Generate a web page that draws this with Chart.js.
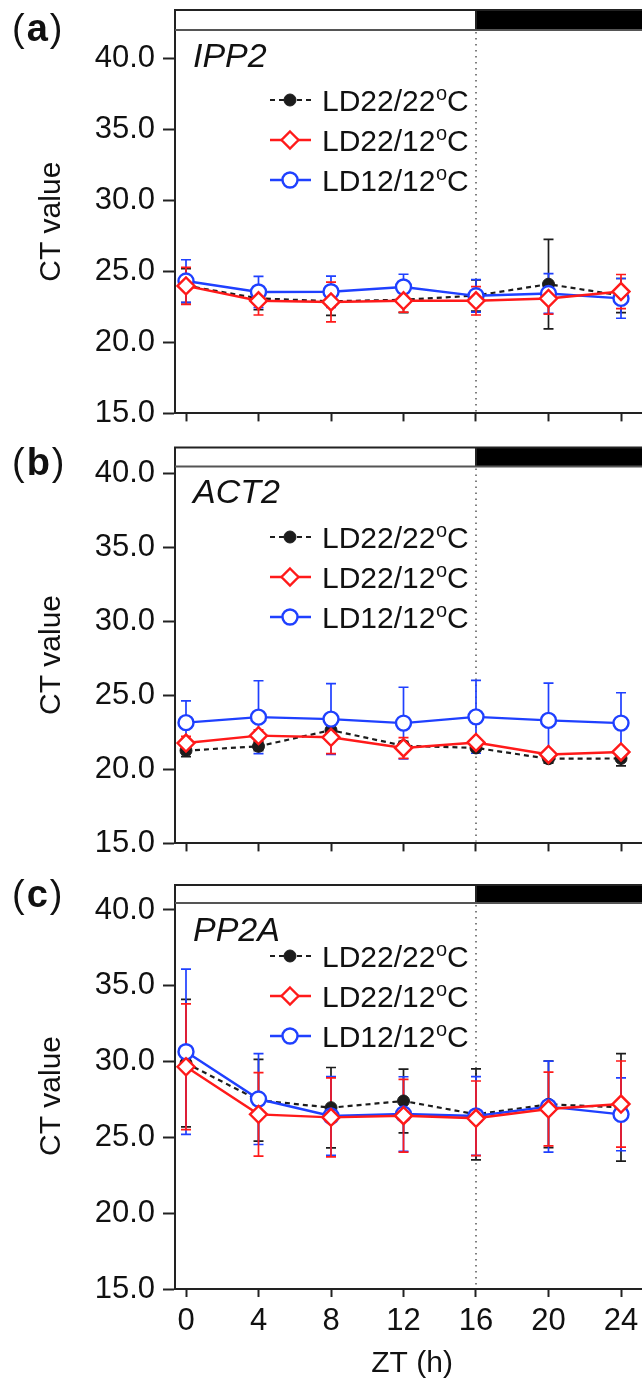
<!DOCTYPE html>
<html>
<head>
<meta charset="utf-8">
<script src="https://cdn.jsdelivr.net/npm/chart.js@4.4.1/dist/chart.umd.min.js"></script>
<style>
  html, body { margin: 0; padding: 0; background: #fff; }
  body { width: 642px; height: 1382px; position: relative; overflow: hidden; }
  canvas { position: absolute; left: 0; }
</style>
</head>
<body>
<canvas id="ca" width="660" height="440" style="top:0px;width:660px;height:440px"></canvas>
<canvas id="cb" width="660" height="430" style="top:440px;width:660px;height:430px"></canvas>
<canvas id="cc" width="660" height="512" style="top:870px;width:660px;height:512px"></canvas>
<script>
// ---------- data ----------
const zt = [0, 4, 8, 12, 16, 20, 24];
const xTicks = [0, 4, 8, 12, 16, 20, 24];
const yTicks = [15, 20, 25, 30, 35, 40];
const seriesLabels = ['LD22/22°C', 'LD22/12°C', 'LD12/12°C'];
const geneNames = ['IPP2', 'ACT2', 'PP2A'];
const panelTags = ['a', 'b', 'c'];
const xTitle = 'ZT (h)';
const yTitle = 'CT value';

// IPP2
const ipp2_22_22 = [24.0, 23.1, 22.9, 23.0, 23.3, 24.1, 23.3];
const ipp2_22_22_err = [1.2, 0.8, 1.0, 0.9, 1.1, 3.15, 1.2];
const ipp2_22_12 = [23.98, 22.93, 22.85, 22.93, 22.93, 23.09, 23.58];
const ipp2_22_12_err = [1.3, 1.0, 1.4, 0.8, 1.0, 1.1, 1.2];
const ipp2_12_12 = [24.32, 23.55, 23.57, 23.9, 23.28, 23.44, 23.1];
const ipp2_12_12_err = [1.5, 1.1, 1.1, 0.9, 1.15, 1.4, 1.4];

// ACT2
const act2_22_22 = [21.27, 21.56, 22.65, 21.6, 21.45, 20.72, 20.74];
const act2_22_22_err = [0.4, 0.3, 0.3, 0.3, 0.2, 0.3, 0.5];
const act2_22_12 = [21.78, 22.28, 22.17, 21.45, 21.82, 21.01, 21.18];
const act2_22_12_err = [0.45, 0.4, 1.1, 0.7, 0.3, 0.2, 0.2];
const act2_12_12 = [23.16, 23.53, 23.4, 23.13, 23.55, 23.31, 23.13];
const act2_12_12_err = [1.47, 2.46, 2.39, 2.42, 2.46, 2.52, 2.05];

// PP2A
const pp2a_22_22 = [29.9, 27.45, 26.96, 27.4, 26.52, 27.18, 26.98];
const pp2a_22_22_err = [4.2, 2.7, 2.65, 2.1, 3.0, 2.86, 3.55];
const pp2a_22_12 = [29.66, 26.52, 26.32, 26.43, 26.26, 26.87, 27.2];
const pp2a_22_12_err = [4.15, 2.75, 2.6, 2.4, 2.46, 2.43, 2.84];
const pp2a_12_12 = [30.65, 27.53, 26.41, 26.54, 26.41, 27.03, 26.52];
const pp2a_12_12_err = [5.45, 3.0, 2.6, 2.46, 2.6, 3.0, 2.4];

const darkStart = 16;

// ---------- styling ----------
const FONT = '"Liberation Sans", Arial, Helvetica, sans-serif';
const BLACK = '#1c1c1c';
const RED = '#ff1a1a';
const BLUE = '#1f40ff';

function pts(vals) { return zt.map((x, i) => ({ x: x, y: vals[i] })); }

function makeDatasets(b, r, u, be, re, ue) {
  return [
    { label: seriesLabels[0], data: pts(b), errors: be, borderColor: BLACK, backgroundColor: BLACK,
      borderWidth: 2.2, borderDash: [5, 4], pointStyle: 'circle', pointRadius: 6, pointBorderWidth: 1,
      pointBackgroundColor: BLACK, pointBorderColor: BLACK, order: 2, tension: 0 },
    { label: seriesLabels[1], data: pts(r), errors: re, borderColor: RED, backgroundColor: '#fff',
      borderWidth: 2.4, pointStyle: 'rectRot', pointRadius: 8.5, pointBorderWidth: 2.4,
      pointBackgroundColor: '#fff', pointBorderColor: RED, order: 0, tension: 0 },
    { label: seriesLabels[2], data: pts(u), errors: ue, borderColor: BLUE, backgroundColor: '#fff',
      borderWidth: 2.4, pointStyle: 'circle', pointRadius: 7.5, pointBorderWidth: 2.4,
      pointBackgroundColor: '#fff', pointBorderColor: BLUE, order: 1, tension: 0 }
  ];
}

function drawLegendLabel(ctx, text, x, y) {
  const parts = text.split('°');
  const base = y + 11;
  ctx.textAlign = 'left';
  ctx.textBaseline = 'alphabetic';
  ctx.fillStyle = '#111';
  ctx.font = '30px ' + FONT;
  ctx.fillText(parts[0], x, base);
  let cx = x + ctx.measureText(parts[0]).width;
  if (parts.length > 1) {
    ctx.font = '20px ' + FONT;
    ctx.fillText('o', cx + 0.5, base - 11);
    cx += ctx.measureText('o').width + 0.5;
    ctx.font = '30px ' + FONT;
    ctx.fillText(parts[1], cx, base);
  }
}

const decoPlugin = {
  id: 'panelDeco',
  beforeDatasetsDraw(chart, args, opts) {
    const ctx = chart.ctx;
    const ca = chart.chartArea;
    const xs = chart.scales.x, ys = chart.scales.y;
    const xd = xs.getPixelForValue(darkStart);
    ctx.save();
    ctx.strokeStyle = '#555';
    ctx.lineWidth = 1.5;
    ctx.setLineDash([1.5, 4.5]);
    ctx.beginPath();
    ctx.moveTo(xd, ca.top + 2);
    ctx.lineTo(xd, ca.bottom - 2);
    ctx.stroke();
    ctx.restore();
    const order = [0, 2, 1];
    order.forEach(di => {
      const ds = chart.data.datasets[di];
      const meta = chart.getDatasetMeta(di);
      ctx.save();
      ctx.strokeStyle = ds.borderColor;
      ctx.lineWidth = 1.7;
      meta.data.forEach((pt, j) => {
        const v = ds.data[j].y, e = ds.errors[j];
        const yt = ys.getPixelForValue(v + e);
        const yb = ys.getPixelForValue(v - e);
        const x = pt.x;
        ctx.beginPath();
        ctx.moveTo(x, yt); ctx.lineTo(x, yb);
        ctx.moveTo(x - 5, yt); ctx.lineTo(x + 5, yt);
        ctx.moveTo(x - 5, yb); ctx.lineTo(x + 5, yb);
        ctx.stroke();
      });
      ctx.restore();
    });
  },
  afterDraw(chart, args, opts) {
    const ctx = chart.ctx;
    const ca = chart.chartArea;
    const xs = chart.scales.x;
    const xd = xs.getPixelForValue(darkStart);
    const W = chart.width;
    const bh = opts.barH;
    ctx.save();
    // light/dark bar
    ctx.fillStyle = '#fff';
    ctx.fillRect(ca.left, ca.top - bh, xd - ca.left, bh);
    ctx.fillStyle = '#000';
    ctx.fillRect(xd, ca.top - bh, W - xd, bh);
    ctx.strokeStyle = '#222';
    ctx.lineWidth = 2;
    ctx.beginPath();
    ctx.moveTo(W + 2, ca.top - bh);
    ctx.lineTo(ca.left, ca.top - bh);
    ctx.lineTo(ca.left, ca.top);
    ctx.moveTo(xd, ca.top - bh);
    ctx.lineTo(xd, ca.top);
    ctx.stroke();
    ctx.strokeStyle = '#555';
    ctx.beginPath();
    ctx.moveTo(ca.left, ca.top);
    ctx.lineTo(W + 2, ca.top);
    ctx.stroke();

    // gene name
    ctx.fillStyle = '#111';
    ctx.font = 'italic 34px ' + FONT;
    ctx.textAlign = 'left';
    ctx.textBaseline = 'alphabetic';
    ctx.fillText(opts.gene, 193, opts.geneY);

    // panel tag
    ctx.font = '38px ' + FONT;
    ctx.fillText('(', 12, opts.tagY);
    let tx = 12 + ctx.measureText('(').width + 2;
    ctx.font = 'bold 38px ' + FONT;
    ctx.fillText(opts.tag, tx, opts.tagY);
    tx += ctx.measureText(opts.tag).width + 2;
    ctx.font = '38px ' + FONT;
    ctx.fillText(')', tx, opts.tagY);

    // legend
    [0, 1, 2].forEach((di, k) => {
      const ds = chart.data.datasets[di];
      const y = opts.legendY[k];
      ctx.save();
      ctx.strokeStyle = ds.borderColor;
      ctx.lineWidth = ds.borderWidth;
      ctx.setLineDash(ds.borderDash || []);
      ctx.beginPath();
      ctx.moveTo(270, y); ctx.lineTo(311, y);
      ctx.stroke();
      ctx.setLineDash([]);
      ctx.fillStyle = ds.pointBackgroundColor;
      ctx.lineWidth = ds.pointBorderWidth;
      ctx.strokeStyle = ds.pointBorderColor;
      ctx.beginPath();
      if (ds.pointStyle === 'rectRot') {
        const r = ds.pointRadius;
        ctx.moveTo(290, y - r); ctx.lineTo(290 + r, y); ctx.lineTo(290, y + r); ctx.lineTo(290 - r, y); ctx.closePath();
      } else {
        ctx.arc(290, y, ds.pointRadius, 0, Math.PI * 2);
      }
      ctx.fill();
      ctx.stroke();
      ctx.restore();
      drawLegendLabel(ctx, ds.label, 322, y);
    });
    ctx.restore();
  }
};

// pixel targets for the x axis (ZT 0 and ZT 24)
const X0_PX = 186, X24_PX = 621;

function makeChart(id, datasets, cfg) {
  const chart = new Chart(document.getElementById(id), {
    type: 'line',
    data: { datasets: datasets },
    plugins: [decoPlugin],
    options: {
      responsive: false,
      animation: false,
      devicePixelRatio: 1,
      layout: { padding: { top: cfg.padTop, left: 0, right: 0, bottom: 0 } },
      plugins: {
        legend: { display: false },
        tooltip: { enabled: false },
        panelDeco: cfg.deco
      },
      elements: { line: { fill: false } },
      scales: {
        x: {
          type: 'linear',
          min: -0.607,
          max: 25.8,
          afterBuildTicks: s => { s.ticks = xTicks.map(v => ({ value: v })); },
          afterFit: s => { s.height = cfg.xH; },
          grid: { drawOnChartArea: false, drawTicks: true, tickLength: 8, tickWidth: 2, tickColor: '#222' },
          border: { display: true, color: '#222', width: 2 },
          ticks: {
            autoSkip: false,
            maxRotation: 0,
            padding: 6,
            color: '#111',
            font: { family: FONT, size: 31 },
            callback: v => cfg.xLabels ? String(v) : ''
          },
          title: {
            display: !!cfg.xLabels,
            text: xTitle,
            color: '#111',
            font: { family: FONT, size: 30 },
            padding: { top: 0, bottom: 0 }
          }
        },
        y: {
          type: 'linear',
          min: 15,
          max: cfg.yMax,
          afterBuildTicks: s => { s.ticks = yTicks.map(v => ({ value: v })); },
          afterFit: s => { s.width = 175; },
          grid: { drawOnChartArea: false, drawTicks: true, tickLength: 12, tickWidth: 2, tickColor: '#222' },
          border: { display: true, color: '#222', width: 2 },
          ticks: {
            padding: 8,
            color: '#111',
            font: { family: FONT, size: 31 },
            callback: v => Number(v).toFixed(1)
          },
          title: {
            display: true,
            text: yTitle,
            color: '#111',
            font: { family: FONT, size: 30 },
            padding: { top: 34, bottom: 0 }
          }
        }
      }
    }
  });
  // fit the x range so that ZT 0 and ZT 24 land where the reference puts them
  const ca = chart.chartArea;
  const ppu = (X24_PX - X0_PX) / 24;
  const mn = -(X0_PX - ca.left) / ppu;
  chart.options.scales.x.min = mn;
  chart.options.scales.x.max = mn + (ca.right - ca.left) / ppu;
  chart.update();
  return chart;
}

makeChart('ca',
  makeDatasets(ipp2_22_22, ipp2_22_12, ipp2_12_12, ipp2_22_22_err, ipp2_22_12_err, ipp2_12_12_err),
  { padTop: 30, xH: 25, yMax: 42, xLabels: false,
    deco: { gene: geneNames[0], tag: panelTags[0], tagY: 41, geneY: 67, legendY: [100, 140, 180], barH: 20 } });

makeChart('cb',
  makeDatasets(act2_22_22, act2_22_12, act2_12_12, act2_22_22_err, act2_22_12_err, act2_12_12_err),
  { padTop: 26, xH: 17, yMax: 40.46, xLabels: false,
    deco: { gene: geneNames[1], tag: panelTags[1], tagY: 35, geneY: 63, legendY: [97, 137, 177], barH: 19 } });

makeChart('cc',
  makeDatasets(pp2a_22_22, pp2a_22_12, pp2a_12_12, pp2a_22_22_err, pp2a_22_12_err, pp2a_12_12_err),
  { padTop: 33, xH: 93, yMax: 40.46, xLabels: true,
    deco: { gene: geneNames[2], tag: panelTags[2], tagY: 37, geneY: 71, legendY: [86, 126, 166], barH: 18 } });
</script>
</body>
</html>
